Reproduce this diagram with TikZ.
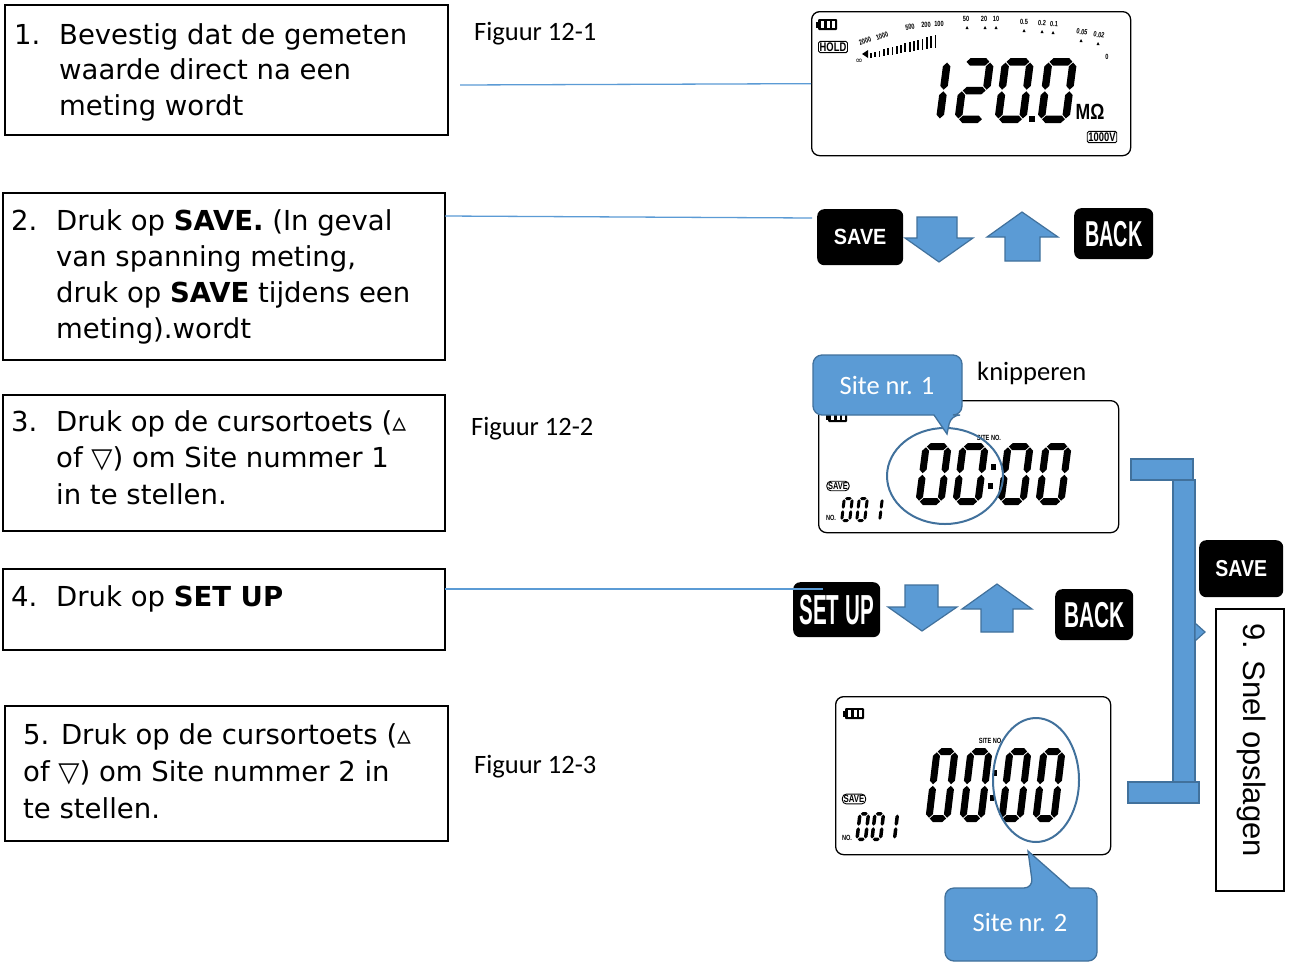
\documentclass[tikz,border=0pt]{standalone}
\usepackage{fontspec}
\setmainfont{DejaVu Sans}
\newfontfamily\calibfont{Carlito}
\newfontfamily\arialfont{Liberation Sans}
\newfontfamily\keyfont{Liberation Sans}
\usetikzlibrary{calc}

\definecolor{ltblue}{HTML}{5B9BD5}
\definecolor{dkblue}{HTML}{41719C}

% seven-segment helpers: \sw width, \sh height, \st thickness, \sg gap
\newcommand\hsegm[3]{\fill ({#1+\sg},{#3}) -- ({#1+\sg+\st/2},{#3-\st/2}) -- ({#2-\sg-\st/2},{#3-\st/2}) -- ({#2-\sg},{#3}) -- ({#2-\sg-\st/2},{#3+\st/2}) -- ({#1+\sg+\st/2},{#3+\st/2}) -- cycle;}
\newcommand\vsegm[3]{\fill ({#1},{#2+\sg}) -- ({#1+\st/2},{#2+\sg+\st/2}) -- ({#1+\st/2},{#3-\sg-\st/2}) -- ({#1},{#3-\sg}) -- ({#1-\st/2},{#3-\sg-\st/2}) -- ({#1-\st/2},{#2+\sg+\st/2}) -- cycle;}
\newcommand\lsga{\hsegm{\st/2}{\sw-\st/2}{-\sh+\st/2}}
\newcommand\lsgg{\hsegm{\st/2}{\sw-\st/2}{-\sh/2}}
\newcommand\lsgd{\hsegm{\st/2}{\sw-\st/2}{-\st/2}}
\newcommand\lsgf{\vsegm{\st/2}{-\sh+\st/2}{-\sh/2}}
\newcommand\lsgb{\vsegm{\sw-\st/2}{-\sh+\st/2}{-\sh/2}}
\newcommand\lsge{\vsegm{\st/2}{-\sh/2}{-\st/2}}
\newcommand\lsgc{\vsegm{\sw-\st/2}{-\sh/2}{-\st/2}}
% one digit: x, bottom y, width, height, thickness, slant, segments
\newcommand\lcddigit[7]{%
  \begin{scope}[shift={(#1,#2)},xslant=#6]
    \def\sw{#3}\def\sh{#4}\def\st{#5}\def\sg{0.8}
    \foreach \sgm in {#7}{\csname lsg\sgm\endcsname}
  \end{scope}}
% small battery symbol, top-left corner
\newcommand\battery[2]{%
  \fill (#1,#2+2.5) rectangle ++(2.5,6);
  \fill[rounded corners=1pt] (#1+2,#2) rectangle ++(19,11);
  \fill[white] (#1+5,#2+2) rectangle ++(3.2,7);
  \fill[white] (#1+10.5,#2+2) rectangle ++(3.2,7);
  \fill[white] (#1+16,#2+2) rectangle ++(3.2,7);}
\newcommand\tinylabel[1]{\scalebox{0.75}[1]{#1}}

\begin{document}
\begin{tikzpicture}[x=1pt,y=-1pt,
  tbox/.style={draw=black, line width=1.5pt, anchor=north west, inner sep=0pt},
  boxtext/.style={anchor=base west, inner sep=0pt},
  figlabel/.style={anchor=west, inner sep=0pt, font=\calibfont\fontsize{26.5}{30}\selectfont},
  lcdframe/.style={draw=black, line width=1.3pt, rounded corners=8pt, anchor=north west, inner sep=0pt},
  keybtn/.style={fill=black, rounded corners=7pt, anchor=north west, inner sep=0pt, text=white, font=\keyfont\bfseries},
  blockarrow/.style={fill=ltblue, draw=dkblue, line width=1.2pt, line join=miter},
  link/.style={draw=ltblue, line width=1.3pt},
  ring/.style={draw=dkblue, line width=2pt},
  callout/.style={fill=ltblue, draw=dkblue, line width=1.3pt},
  tiny/.style={inner sep=0pt, font=\keyfont\bfseries\fontsize{7.5}{7.5}\selectfont},
  lcdtag/.style={draw=black, line width=0.9pt, rounded corners=1.5pt, inner sep=1.2pt, font=\keyfont\bfseries\fontsize{12.5}{12.5}\selectfont},
]
\fill[white] (0,0) rectangle (1291,962);
\useasboundingbox (0,0) rectangle (1291,962);

% ---------- step boxes ----------
\node[tbox, minimum width=443pt, minimum height=130pt] (b1) at (4,4) {};
\node[boxtext, font=\fontsize{27.5}{35.5}\selectfont] (t1) at (14,44)
  {\begin{tabular}[t]{@{}p{45pt}@{}l@{}}1.&Bevestig dat de gemeten\\&waarde direct na een\\&meting wordt\end{tabular}};

\node[tbox, minimum width=442pt, minimum height=167pt] (b2) at (2,192) {};
\node[boxtext, font=\fontsize{27.5}{36.3}\selectfont] (t2) at (11,230)
  {\begin{tabular}[t]{@{}p{45pt}@{}l@{}}2.&Druk op \textbf{SAVE.} (In geval\\&van spanning meting,\\&druk op \textbf{SAVE} tijdens een\\&meting).wordt\end{tabular}};

\node[tbox, minimum width=442pt, minimum height=136pt] (b3) at (2,394) {};
\node[boxtext, font=\fontsize{27.5}{36.5}\selectfont] (t3) at (11,431)
  {\begin{tabular}[t]{@{}p{45pt}@{}l@{}}3.&Druk op de cursortoets (▵\\&of ▽) om Site nummer 1\\&in te stellen.\end{tabular}};

\node[tbox, minimum width=442pt, minimum height=81pt] (b4) at (2,568) {};
\node[boxtext, font=\fontsize{27.5}{36}\selectfont] (t4) at (11,606)
  {\begin{tabular}[t]{@{}p{45pt}@{}l@{}}4.&Druk op \textbf{SET UP}\end{tabular}};

\node[tbox, minimum width=443pt, minimum height=135pt] (b5) at (4,705) {};
\node[boxtext, font=\fontsize{27.5}{37}\selectfont] (t5) at (23,744)
  {\begin{tabular}[t]{@{}l@{}}5. Druk op de cursortoets (▵\\of ▽) om Site nummer 2 in\\te stellen.\end{tabular}};

\node[tbox, minimum width=68pt, minimum height=282pt] (b9) at (1215,608) {};
\node[inner sep=0pt, rotate=-90, font=\arialfont\fontsize{31}{31}\selectfont] (t9) at (1252,740) {9. Snel opslagen};

% ---------- figure captions ----------
\node[figlabel] (f1) at (474,34) {Figuur 12-1};
\node[figlabel] (f2) at (471,429) {Figuur 12-2};
\node[figlabel] (f3) at (474,767) {Figuur 12-3};
\node[figlabel] (kn) at (977,373) {knipperen};

% ---------- display 12-1 ----------
\node[lcdframe, minimum width=319pt, minimum height=144pt] (lcd1) at (811,11) {};
\battery{816}{19}
\node[lcdtag] (hold) at (833,47) {\tinylabel{HOLD}};
\fill (862,54) -- (868,50) -- (868,58) -- cycle;
\node[inner sep=0pt, font=\fontsize{9}{9}\selectfont] (inf) at (859,61) {∞};
\foreach \i in {0,...,15}{
  \pgfmathsetmacro\tx{870+\i*4.3}
  \pgfmathsetmacro\tb{58-\i*0.7}
  \pgfmathsetmacro\th{5+\i*0.5}
  \fill (\tx,\tb) rectangle ++(1.8,-\th);}
\node[tiny, rotate=20] (s2000) at (865,41) {\tinylabel{2000}};
\node[tiny, rotate=20] (s1000) at (882,36) {\tinylabel{1000}};
\node[tiny, rotate=10] (s500) at (910,27) {\tinylabel{500}};
\node[tiny, rotate=5] (s200) at (926,25) {\tinylabel{200}};
\node[tiny] (s100) at (939,24) {\tinylabel{100}};
\node[tiny] (s50) at (966,19) {\tinylabel{50}};
\node[tiny] (s20) at (984,19) {\tinylabel{20}};
\node[tiny] (s10) at (996,19) {\tinylabel{10}};
\node[tiny] (s05) at (1024,22) {\tinylabel{0.5}};
\node[tiny, rotate=-5] (s02) at (1042,23) {\tinylabel{0.2}};
\node[tiny, rotate=-5] (s01) at (1054,24) {\tinylabel{0.1}};
\node[tiny, rotate=-10] (s005) at (1082,32) {\tinylabel{0.05}};
\node[tiny, rotate=-10] (s002) at (1099,35) {\tinylabel{0.02}};
\node[tiny] (s0) at (1107,57) {\tinylabel{0}};
\foreach \mx/\my in {967/29,985/29,996/29,1024/32,1042/33,1053/34,1081/42,1098/45}{
  \fill (\mx-1.5,\my) -- (\mx+1.5,\my) -- (\mx,\my-3) -- cycle;}
\lcddigit{911}{123}{32}{65}{7.5}{0.13}{b,c}
\lcddigit{954}{123}{32}{65}{7.5}{0.13}{a,b,g,e,d}
\lcddigit{994}{123}{32}{65}{7.5}{0.13}{a,b,c,d,e,f}
\fill (1029,116) rectangle (1035,122);
\lcddigit{1037}{123}{32}{65}{7.5}{0.13}{a,b,c,d,e,f}
\node[inner sep=0pt, font=\keyfont\bfseries\fontsize{22}{22}\selectfont] (unit) at (1090,112) {\scalebox{0.8}[1]{MΩ}};
\node[lcdtag] (volt) at (1102,137) {\tinylabel{1000V}};

% ---------- keys and arrows, first row ----------
\node[keybtn, minimum width=86pt, minimum height=56pt] (save1) at (817,209) {\fontsize{22}{22}\selectfont\scalebox{0.9}[1]{SAVE}};
\draw[blockarrow] (917,217) -- (957,217) -- (957,238) -- (973,238) -- (939,262) -- (905,238) -- (917,238) -- cycle;
\draw[blockarrow] (1022,212) -- (1058,237) -- (1040,237) -- (1040,261) -- (1005,261) -- (1005,237) -- (987,237) -- cycle;
\node[keybtn, minimum width=79pt, minimum height=51pt] (back1) at (1074,208) {\fontsize{36}{36}\selectfont\scalebox{0.55}[1]{BACK}};

% ---------- display 12-2 ----------
\node[lcdframe, minimum width=300pt, minimum height=132pt] (lcd2) at (818,400) {};
\battery{826}{411}
\node[tiny] (site2) at (989,438) {\tinylabel{SITE NO.}};
\lcddigit{915}{505}{29}{62}{7}{0.13}{a,b,c,d,e,f}
\lcddigit{952}{505}{29}{62}{7}{0.13}{a,b,c,d,e,f}
\fill (991,464) rectangle (996,470);
\fill (988,483) rectangle (993,489);
\lcddigit{997}{505}{29}{62}{7}{0.13}{a,b,c,d,e,f}
\lcddigit{1035}{505}{29}{62}{7}{0.13}{a,b,c,d,e,f}
\node[lcdtag, rounded corners=4pt, font=\keyfont\bfseries\fontsize{10}{10}\selectfont] (sv2) at (838,486) {\tinylabel{SAVE}};
\node[tiny] (no2) at (831,518) {\tinylabel{NO.}};
\lcddigit{840}{522}{11}{25}{3}{0.12}{a,b,c,d,e,f}
\lcddigit{855}{522}{11}{25}{3}{0.12}{a,b,c,d,e,f}
\lcddigit{870}{522}{11}{25}{3}{0.12}{b,c}
\draw[ring] (945,476) ellipse [x radius=58, y radius=48];

% callout: Site nr. 1
\draw[callout] (813,385) [rounded corners=9pt] -- (813,355) -- (962,355) -- (962,415) -- (951,415) [sharp corners] -- (947,434) -- (934,415) [rounded corners=9pt] -- (813,415) -- cycle;
\node[inner sep=0pt, text=white, font=\calibfont\fontsize{26.5}{30}\selectfont] (co1) at (887,385) {Site nr. 1};

% ---------- keys and arrows, second row ----------
\node[keybtn, minimum width=87pt, minimum height=55pt] (setup) at (793,582) {\fontsize{42}{42}\selectfont\scalebox{0.49}[1]{SET UP}};
\draw[blockarrow] (905,585) -- (938,585) -- (938,607) -- (957,607) -- (922,631) -- (888,607) -- (905,607) -- cycle;
\draw[blockarrow] (997,584) -- (1032,609) -- (1013,609) -- (1013,632) -- (981,632) -- (981,609) -- (962,609) -- cycle;
\node[keybtn, minimum width=78pt, minimum height=51pt] (back2) at (1055,589) {\fontsize{36}{36}\selectfont\scalebox{0.58}[1]{BACK}};

% ---------- display 12-3 ----------
\node[lcdframe, minimum width=275pt, minimum height=158pt] (lcd3) at (835,696) {};
\battery{843}{708}
\node[tiny] (site3) at (990,741) {\tinylabel{SITE NO}};
\lcddigit{925}{822}{25}{74}{7}{0.12}{a,b,c,d,e,f}
\lcddigit{959}{822}{25}{74}{7}{0.12}{a,b,c,d,e,f}
\fill (993,770) rectangle (997,776);
\fill (990,795) rectangle (994,801);
\lcddigit{998}{822}{25}{74}{7}{0.12}{a,b,c,d,e,f}
\lcddigit{1032}{822}{25}{74}{7}{0.12}{a,b,c,d,e,f}
\node[lcdtag, rounded corners=4pt, font=\keyfont\bfseries\fontsize{10.5}{10.5}\selectfont] (sv3) at (854,799) {\tinylabel{SAVE}};
\node[tiny] (no3) at (847,838) {\tinylabel{NO.}};
\lcddigit{855}{841}{12}{29}{3.5}{0.12}{a,b,c,d,e,f}
\lcddigit{870}{841}{12}{29}{3.5}{0.12}{a,b,c,d,e,f}
\lcddigit{884}{841}{12}{29}{3.5}{0.12}{b,c}
\draw[ring] (1036,780) ellipse [x radius=43, y radius=62];

% callout: Site nr. 2
\draw[callout] (945,925) [rounded corners=9pt] -- (945,888) -- (1033,888) [sharp corners] -- (1028,851) -- (1070,888) [rounded corners=9pt] -- (1097,888) -- (1097,961) -- (945,961) -- cycle;
\node[inner sep=0pt, text=white, font=\calibfont\fontsize{26.5}{30}\selectfont] (co2) at (1020,922) {Site nr. 2};

% ---------- bracket and save key ----------
\draw[blockarrow] (1131,459) rectangle (1193,480);
\draw[blockarrow] (1173,480) rectangle (1195,782);
\draw[blockarrow] (1195,623) -- (1205,632) -- (1195,641) -- cycle;
\draw[blockarrow] (1128,782) rectangle (1199,803);
\node[keybtn, minimum width=84pt, minimum height=57pt] (save2) at (1199,540) {\fontsize{23}{23}\selectfont\scalebox{0.85}[1]{SAVE}};

% ---------- connectors ----------
\coordinate (c1a) at (460,85);
\draw[link] (c1a) -- (lcd1.west);
\coordinate (c2a) at (445,216);
\coordinate (c2b) at (812,218);
\draw[link] (c2a) -- (c2b);
\coordinate (c3a) at (445,589);
\coordinate (c3b) at (823,589);
\draw[link] (c3a) -- (c3b);
\end{tikzpicture}
\end{document}
